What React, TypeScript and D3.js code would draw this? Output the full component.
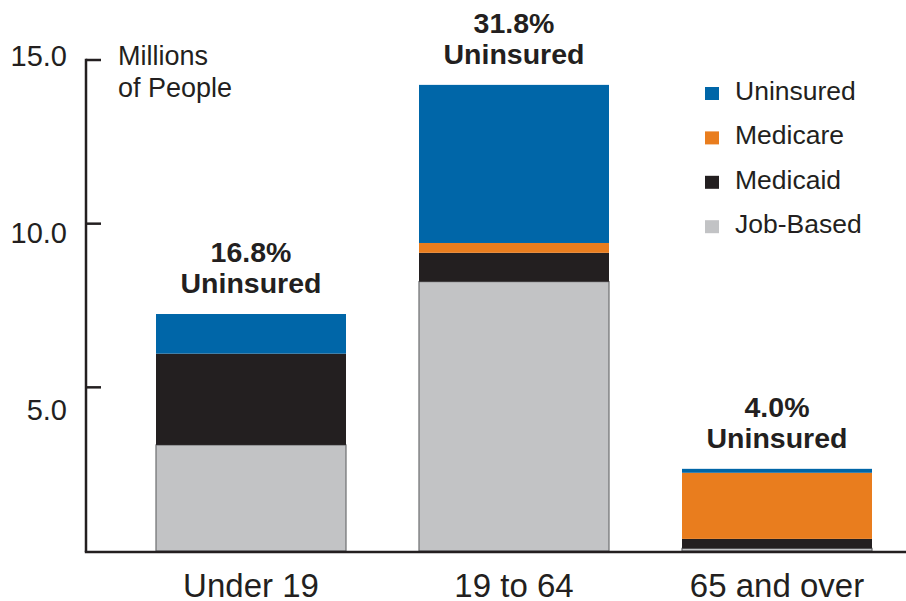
import React, { useEffect, useRef } from "react";
import * as d3 from "d3";

const categories = ["Under 19", "19 to 64", "65 and over"];
const series = ["Job-Based", "Medicaid", "Medicare", "Uninsured"];
const jobBased = [3.24, 8.23, 0.08];
const medicaid = [2.79, 0.88, 0.29];
const medicare = [0, 0.3, 2.02];
const uninsured = [1.21, 4.83, 0.12];
const uninsuredPct = ["16.8%", "31.8%", "4.0%"];
const yTicks = [5, 10, 15];
const legendItems = ["Uninsured", "Medicare", "Medicaid", "Job-Based"];

const colors: Record<string, string> = {
  "Job-Based": "#c2c3c5",
  Medicaid: "#231f20",
  Medicare: "#e97d1e",
  Uninsured: "#0066a8",
};

const W = 906;
const H = 601;
const FONT = "'Liberation Sans', Arial, Helvetica, sans-serif";
const INK = "#231f20";

const App: React.FC = () => {
  const svgRef = useRef<SVGSVGElement>(null);

  useEffect(() => {
    if (!svgRef.current) return;
    const svg = d3.select(svgRef.current);
    svg.selectAll("*").remove();

    const axisX = 86;
    const baseY = 552;
    const y = d3.scaleLinear().domain([0, 15]).range([551, 60]);
    const x = d3
      .scaleBand<string>()
      .domain(categories)
      .range([156, 872])
      .paddingInner(73 / 263)
      .paddingOuter(0);

    const rows = categories.map((c, i) => ({
      category: c,
      "Job-Based": jobBased[i],
      Medicaid: medicaid[i],
      Medicare: medicare[i],
      Uninsured: uninsured[i],
    }));

    const stacked = d3.stack<any>().keys(series)(rows);

    // stacked bars
    const g = svg.append("g");
    stacked.forEach((layer) => {
      g.selectAll(null)
        .data(layer)
        .enter()
        .append("rect")
        .attr("x", (d: any) => x(d.data.category)!)
        .attr("width", x.bandwidth())
        .attr("y", (d) => y(d[1]))
        .attr("height", (d) => Math.max(0, y(d[0]) - y(d[1])))
        .attr("fill", colors[layer.key])
        .attr("stroke", layer.key === "Job-Based" ? "#6d6e70" : "none")
        .attr("stroke-width", 1.2);
    });

    // axes
    svg
      .append("line")
      .attr("x1", axisX)
      .attr("x2", axisX)
      .attr("y1", y(15) - 1.2)
      .attr("y2", baseY)
      .attr("stroke", INK)
      .attr("stroke-width", 2.5);
    svg
      .append("line")
      .attr("x1", axisX - 1.2)
      .attr("x2", W)
      .attr("y1", baseY)
      .attr("y2", baseY)
      .attr("stroke", INK)
      .attr("stroke-width", 2.5);

    // tick labels sit at uneven offsets in the original
    const labelDy: Record<number, number> = { 15: 6, 10: 19, 5: 33 };
    yTicks.forEach((t) => {
      svg
        .append("line")
        .attr("x1", axisX)
        .attr("x2", axisX + 15)
        .attr("y1", y(t))
        .attr("y2", y(t))
        .attr("stroke", INK)
        .attr("stroke-width", 2.5);
      svg
        .append("text")
        .attr("x", 67)
        .attr("y", y(t) + labelDy[t])
        .attr("text-anchor", "end")
        .attr("font-family", FONT)
        .attr("font-size", 29)
        .attr("fill", INK)
        .text(t.toFixed(1));
    });

    // unit label
    svg
      .append("text")
      .attr("x", 118)
      .attr("y", 65)
      .attr("font-family", FONT)
      .attr("font-size", 27)
      .attr("fill", INK)
      .text("Millions");
    svg
      .append("text")
      .attr("x", 118)
      .attr("y", 97)
      .attr("font-family", FONT)
      .attr("font-size", 27)
      .attr("fill", INK)
      .text("of People");

    // category labels
    categories.forEach((c) => {
      svg
        .append("text")
        .attr("x", x(c)! + x.bandwidth() / 2)
        .attr("y", 597)
        .attr("text-anchor", "middle")
        .attr("font-family", FONT)
        .attr("font-size", 33)
        .attr("fill", INK)
        .text(c);
    });

    // uninsured annotations
    rows.forEach((r, i) => {
      const top = y(jobBased[i] + medicaid[i] + medicare[i] + uninsured[i]);
      const cx = x(r.category)! + x.bandwidth() / 2;
      svg
        .append("text")
        .attr("x", cx)
        .attr("y", top - 52)
        .attr("text-anchor", "middle")
        .attr("font-family", FONT)
        .attr("font-weight", "bold")
        .attr("font-size", 28.5)
        .attr("fill", INK)
        .text(uninsuredPct[i]);
      svg
        .append("text")
        .attr("x", cx)
        .attr("y", top - 21)
        .attr("text-anchor", "middle")
        .attr("font-family", FONT)
        .attr("font-weight", "bold")
        .attr("font-size", 28.5)
        .attr("fill", INK)
        .text("Uninsured");
    });

    // legend
    legendItems.forEach((k, i) => {
      const base = 100 + i * 44.4;
      svg
        .append("rect")
        .attr("x", 705)
        .attr("y", base - 13)
        .attr("width", 14)
        .attr("height", 13)
        .attr("fill", colors[k]);
      svg
        .append("text")
        .attr("x", 735)
        .attr("y", base)
        .attr("font-family", FONT)
        .attr("font-size", 26.5)
        .attr("fill", INK)
        .text(k);
    });
  }, []);

  return (
    <svg
      ref={svgRef}
      width={W}
      height={H}
      style={{ position: "absolute", left: 0, top: 0, background: "#fff" }}
    />
  );
};

export default App;
